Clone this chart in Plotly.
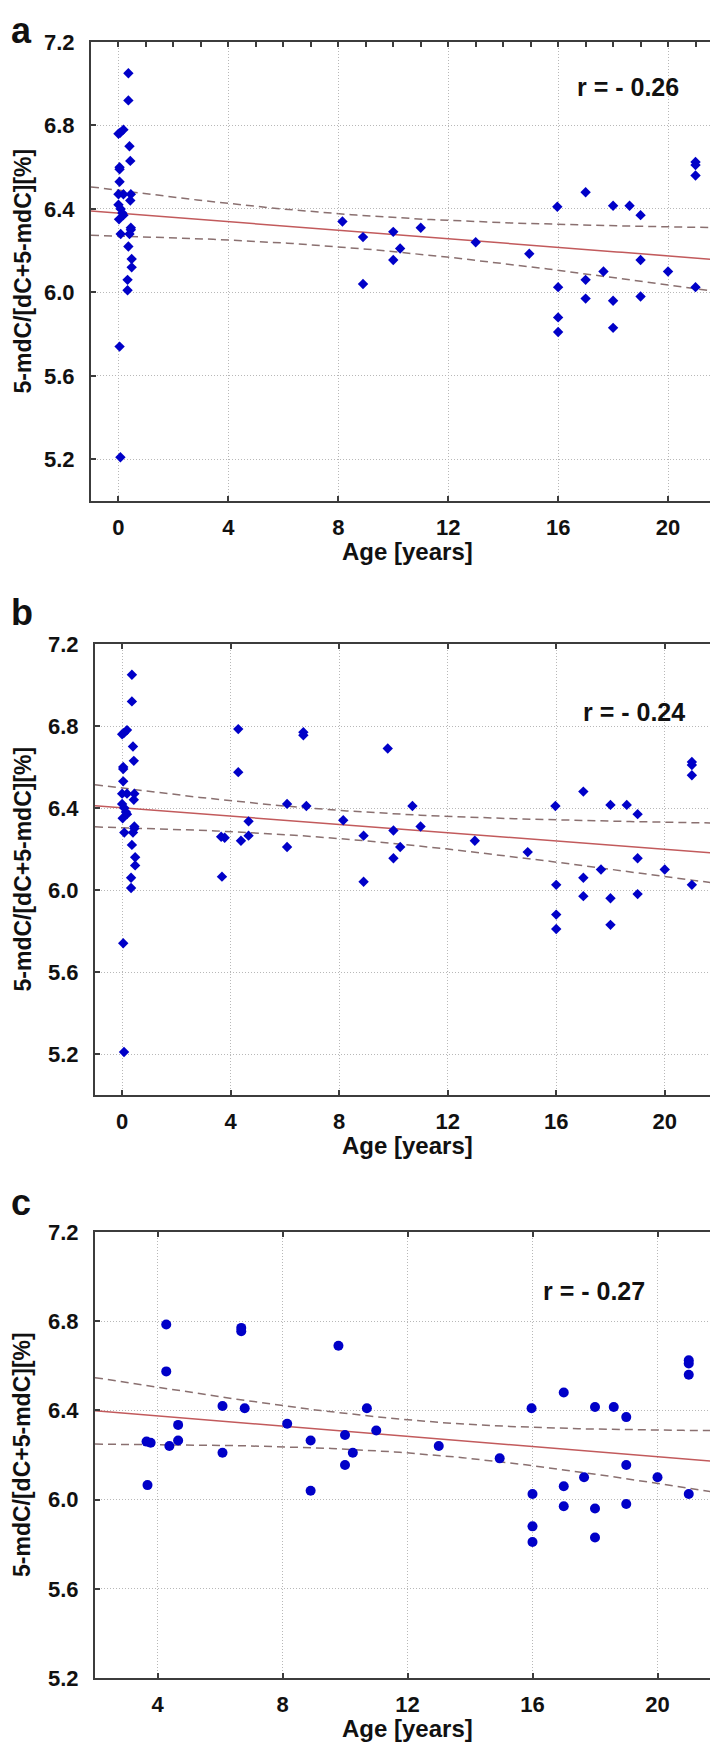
import numpy as np
import plotly.graph_objects as go

# ---------------- data ----------------
# infants (< 1 year) - shown in panels a and b
inf_x = [0.0, 0.06, 0.18, 0.04, 0.04, 0.04, 0.0, 0.18, 0.45, 0.43,
         0.0, 0.08, 0.14, 0.18, 0.02, 0.08, 0.36, 0.36, 0.40, 0.43,
         0.45, 0.45, 0.40, 0.36, 0.48, 0.48, 0.33, 0.33, 0.04, 0.07]
inf_y = [6.76, 6.765, 6.78, 6.60, 6.59, 6.53, 6.47, 6.47, 6.47, 6.44,
         6.42, 6.40, 6.38, 6.37, 6.35, 6.28, 7.05, 6.92, 6.70, 6.63,
         6.31, 6.30, 6.28, 6.22, 6.16, 6.12, 6.06, 6.01, 5.74, 5.21]

# older children / adolescents - shown in all panels
old_x = [8.15, 8.9, 8.9, 10.0, 10.0, 10.25, 11.0, 13.0, 14.95, 15.97,
         16.0, 16.0, 16.0, 17.0, 17.0, 17.0, 17.65, 18.0, 18.0, 18.0,
         18.6, 19.0, 19.0, 19.0, 20.0, 21.0, 21.0, 21.0, 21.0]
old_y = [6.34, 6.265, 6.04, 6.29, 6.155, 6.21, 6.31, 6.24, 6.185, 6.41,
         6.025, 5.88, 5.81, 6.48, 6.06, 5.97, 6.10, 6.415, 5.96, 5.83,
         6.415, 6.37, 6.155, 5.98, 6.10, 6.625, 6.61, 6.56, 6.025]

# additional children - shown in panels b and c
ext_x = [3.65, 3.78, 3.68, 4.28, 4.28, 4.38, 4.66, 4.66, 6.08, 6.08,
         6.68, 6.68, 6.79, 9.79, 10.7]
ext_y = [6.26, 6.255, 6.065, 6.785, 6.575, 6.24, 6.335, 6.265, 6.42, 6.21,
         6.77, 6.755, 6.41, 6.69, 6.41]

r_labels = ["r = - 0.26", "r = - 0.24", "r = - 0.27"]
panel_letters = ["a", "b", "c"]
x_ticks_ab = [0, 4, 8, 12, 16, 20]
x_ticks_c = [4, 8, 12, 16, 20]
y_ticks = [5.2, 5.6, 6.0, 6.4, 6.8, 7.2]
x_title = "Age [years]"
y_title = "5-mdC/[dC+5-mdC][%]"

panel_data = [
    (inf_x + old_x, inf_y + old_y),
    (inf_x + old_x + ext_x, inf_y + old_y + ext_y),
    (old_x + ext_x, old_y + ext_y),
]

# ---------------- layout geometry (pixels) ----------------
W, H = 718, 1746
boxes = [  # left, right, top, bottom
    (83, 715, 34, 493),
    (87, 711, 636, 1087),
    (87, 712, 1224, 1670),
]
x_ranges = [[-1, 22], [-1, 22], [2, 22]]
y_ranges = [[5.0, 7.2], [5.0, 7.2], [5.2, 7.2]]
r_pos = [(18.55, 6.985), (18.85, 6.87), (17.97, 6.935)]
letter_top = [0, 582, 1172]

FONT = "Liberation Sans, Arial, sans-serif"
BLUE = "#0000c8"
FITC = "#c25a5c"
BANDC = "#8a7070"
AXC = "#3c3c3c"
T95 = 2.0


def fit_band(x, y, xs):
    x = np.asarray(x, float)
    y = np.asarray(y, float)
    b, a = np.polyfit(x, y, 1)
    n = len(x)
    res = y - (a + b * x)
    s = np.sqrt(np.sum(res ** 2) / (n - 2))
    xm = x.mean()
    sxx = np.sum((x - xm) ** 2)
    yh = a + b * xs
    h = T95 * s * np.sqrt(1.0 / n + (xs - xm) ** 2 / sxx)
    return yh, yh + h, yh - h


fig = go.Figure()
annotations = []

for i in range(3):
    xa = "x" if i == 0 else f"x{i+1}"
    ya = "y" if i == 0 else f"y{i+1}"
    px, py = panel_data[i]
    xs = np.linspace(x_ranges[i][0], x_ranges[i][1], 120)
    yh, up, lo = fit_band(px, py, xs)
    for band in (up, lo):
        fig.add_trace(go.Scatter(x=xs, y=band, mode="lines", xaxis=xa, yaxis=ya,
                                 line=dict(color=BANDC, width=1.5, dash="8px,5px"),
                                 hoverinfo="skip", showlegend=False))
    fig.add_trace(go.Scatter(x=xs, y=yh, mode="lines", xaxis=xa, yaxis=ya,
                             line=dict(color=FITC, width=1.5),
                             hoverinfo="skip", showlegend=False))
    fig.add_trace(go.Scatter(x=px, y=py, mode="markers", xaxis=xa, yaxis=ya,
                             marker=dict(symbol="circle" if i == 2 else "diamond",
                                         size=10 if i == 2 else 8, color=BLUE,
                                         line=dict(width=0)),
                             showlegend=False))

    l, r, t, b = boxes[i]
    dom_x = [l / W, r / W]
    dom_y = [1 - b / H, 1 - t / H]
    common = dict(showline=True, linecolor=AXC, linewidth=2, mirror="ticks",
                  ticks="inside", ticklen=5, tickcolor=AXC, tickwidth=1.5,
                  showgrid=True, gridcolor="#b8b8b8", gridwidth=1, griddash="1px,2px",
                  zeroline=False, automargin=False,
                  tickfont=dict(family=FONT, size=22, color="#111111", weight="bold"))
    xkey = "xaxis" if i == 0 else f"xaxis{i+1}"
    ykey = "yaxis" if i == 0 else f"yaxis{i+1}"
    fig.update_layout({
        xkey: dict(common, domain=dom_x, range=x_ranges[i], anchor=ya,
                   tickmode="array", tickvals=x_ticks_c if i == 2 else x_ticks_ab,
                   ticklabelstandoff=6),
        ykey: dict(common, domain=dom_y, range=y_ranges[i], anchor=xa,
                   tickmode="array", tickvals=y_ticks,
                   ticktext=[f"{v:.1f}" for v in y_ticks], ticklabelstandoff=10),
    })

    # correlation label
    annotations.append(dict(x=r_pos[i][0], y=r_pos[i][1], xref=xa, yref=ya,
                            text=r_labels[i], showarrow=False,
                            xanchor="center", yanchor="middle",
                            font=dict(family=FONT, size=25, color="#111111", weight="bold")))
    # x axis title
    annotations.append(dict(x=(l + r) / 2 / W, y=1 - (b + 50) / H, xref="paper", yref="paper",
                            text=x_title, showarrow=False, xanchor="center", yanchor="middle",
                            font=dict(family=FONT, size=24, color="#111111", weight="bold")))
    # y axis title
    annotations.append(dict(x=0.0, y=1 - (t + b) / 2 / H, xref="paper", yref="paper",
                            text=y_title, showarrow=False, textangle=-90,
                            xanchor="left", yanchor="middle", borderpad=0,
                            font=dict(family=FONT, size=23, color="#111111", weight="bold")))
    # panel letter
    annotations.append(dict(x=1 / W, y=1 - letter_top[i] / H,
                            xref="paper", yref="paper", text=panel_letters[i],
                            showarrow=False, xanchor="left", yanchor="top",
                            font=dict(family=FONT, size=36, color="#111111", weight="bold")))

# minor ticks (every year) along the top edge of panel a
fig.add_trace(go.Scatter(x=[None], y=[None], xaxis="x4", yaxis="y", showlegend=False,
                         hoverinfo="skip"))
fig.update_layout(xaxis4=dict(overlaying="x", side="top", anchor="y", range=x_ranges[0],
                              domain=[boxes[0][0] / W, boxes[0][1] / W],
                              tickmode="linear", tick0=0, dtick=1, ticks="inside",
                              ticklen=5, tickcolor=AXC, tickwidth=1.5,
                              showticklabels=False, showgrid=False, showline=False,
                              zeroline=False, automargin=False))

fig.update_layout(width=W, height=H, margin=dict(l=0, r=0, t=0, b=0),
                  paper_bgcolor="white", plot_bgcolor="white",
                  showlegend=False, annotations=annotations)

fig.write_html("out.html")
